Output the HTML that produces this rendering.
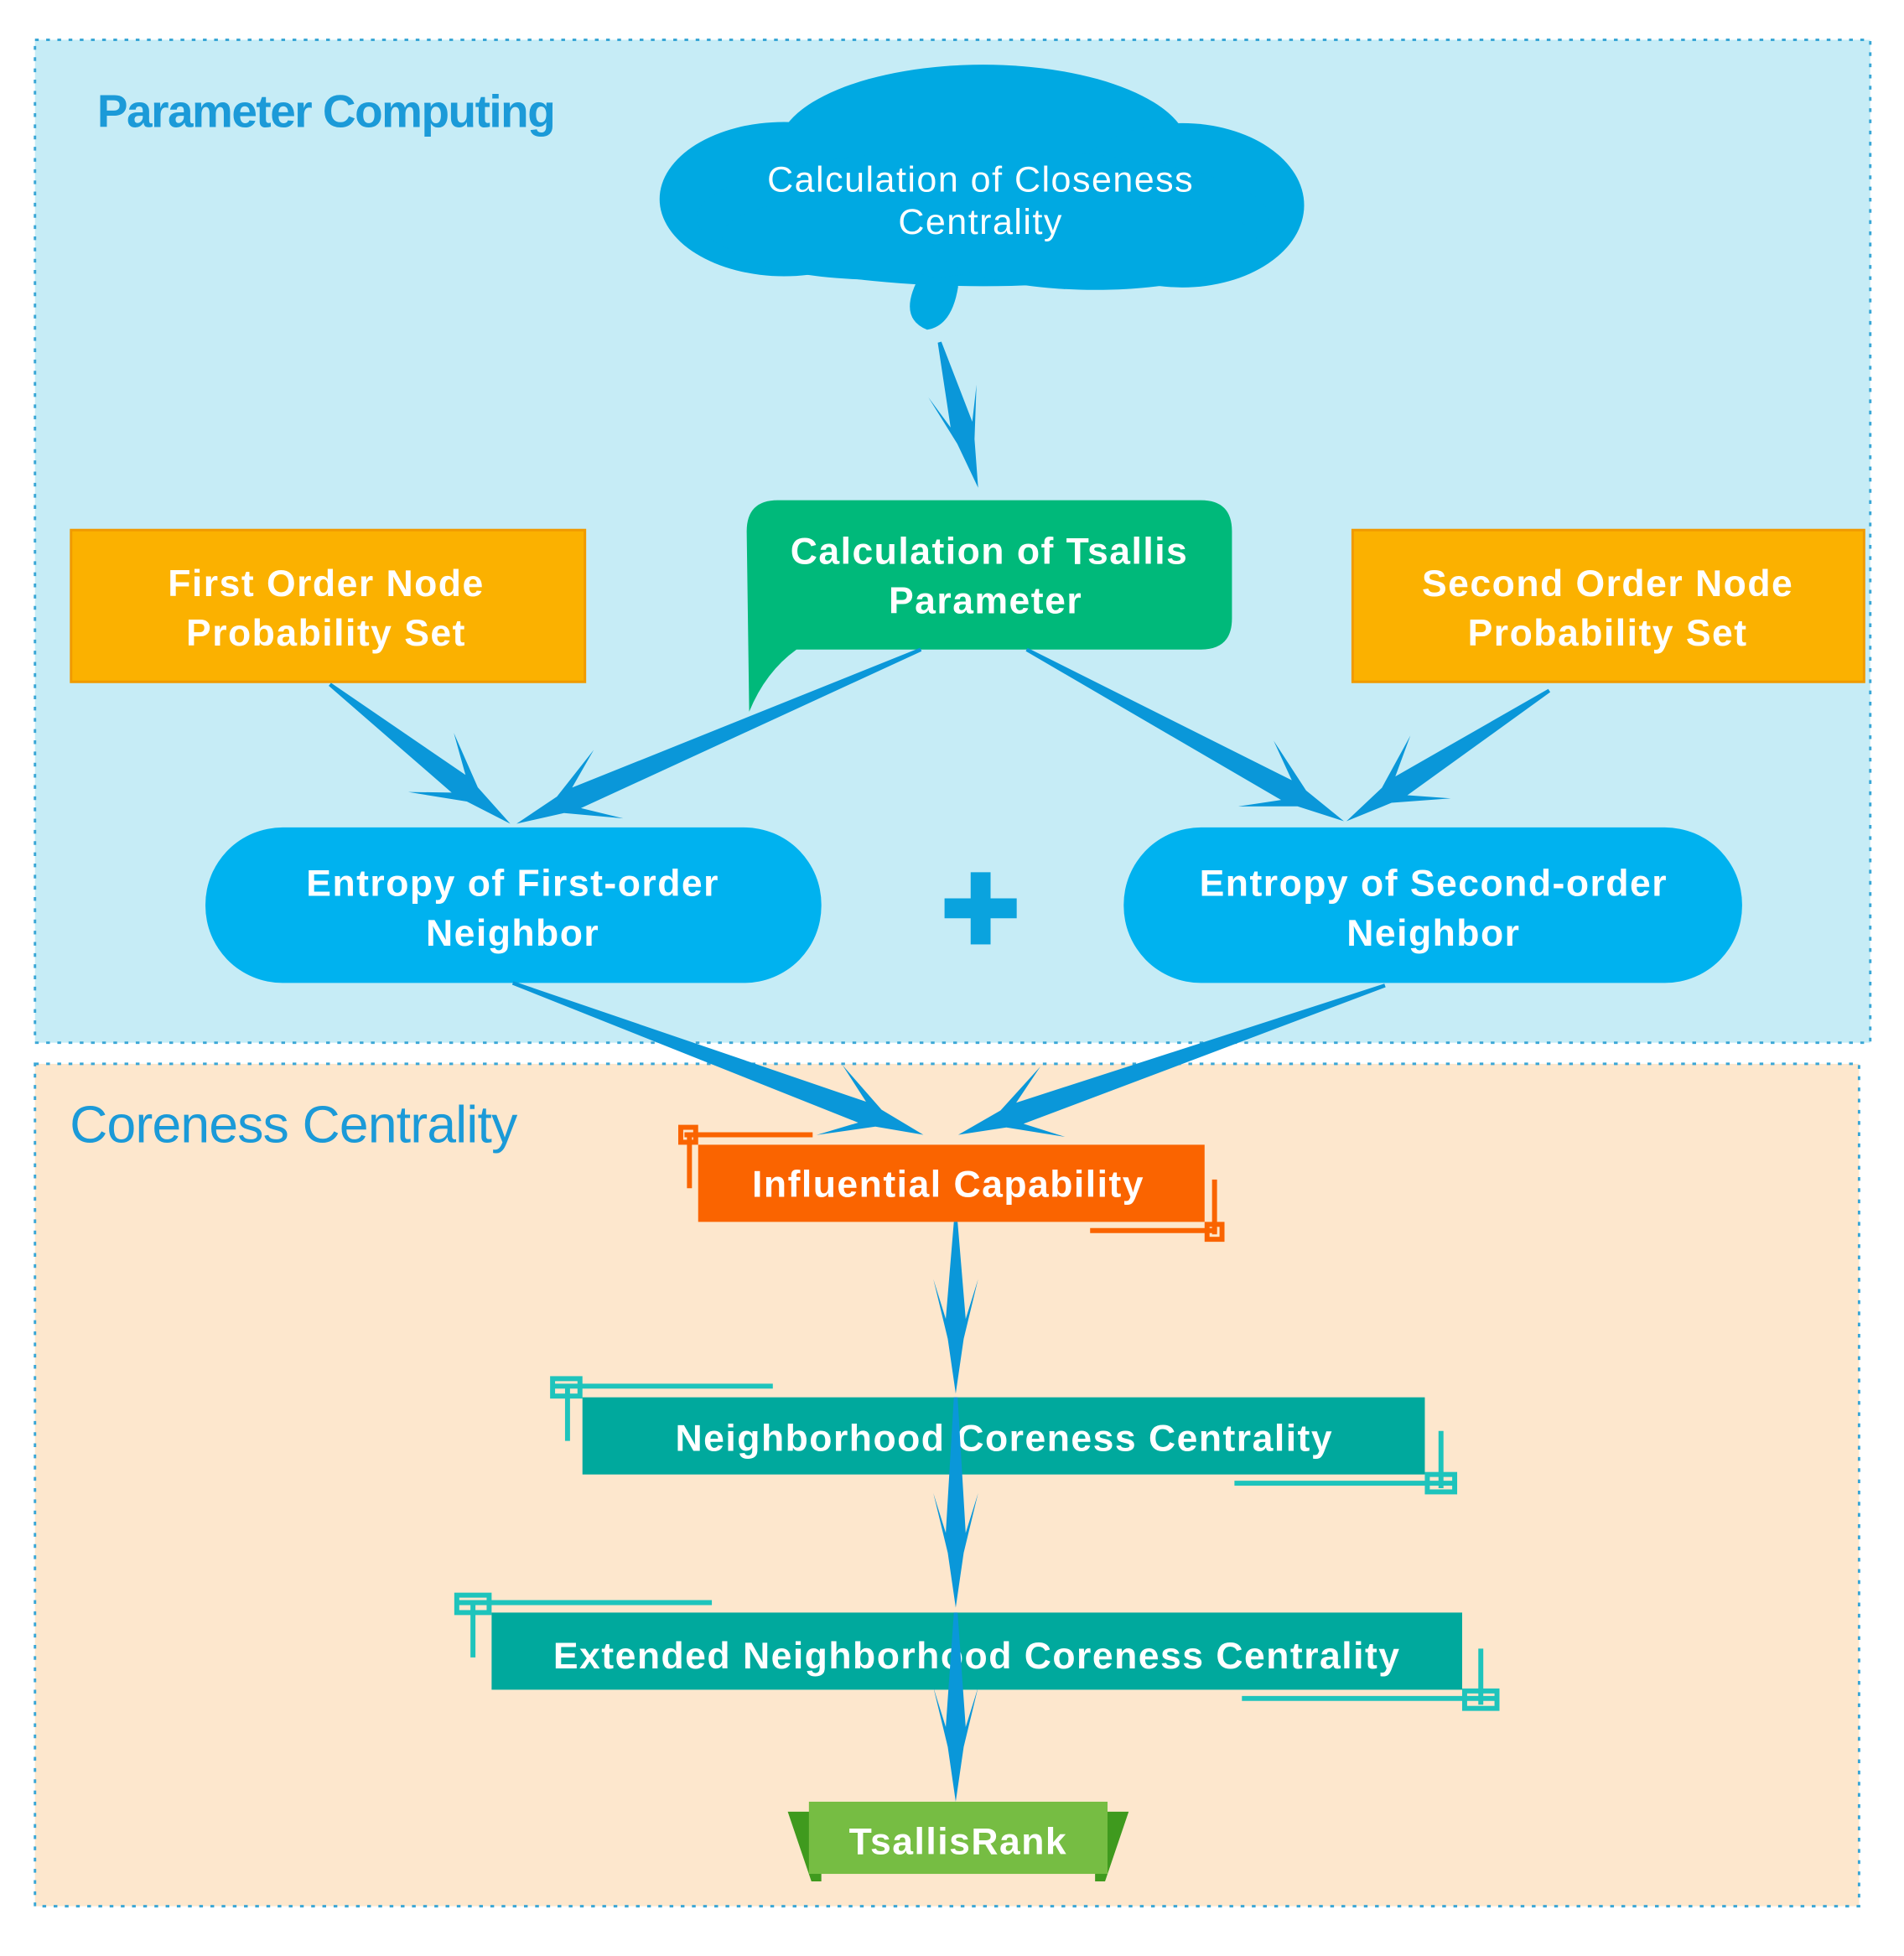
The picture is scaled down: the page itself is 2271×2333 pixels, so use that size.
<!DOCTYPE html>
<html><head><meta charset="utf-8"><style>
html,body{margin:0;padding:0;background:#fff;}
svg{display:block;}
text{font-family:"Liberation Sans",sans-serif;}
</style></head><body>
<svg id="s" width="2271" height="2333" viewBox="0 0 1530 1572" xmlns="http://www.w3.org/2000/svg">
<rect x="0" y="0" width="1530" height="1572" fill="#fff"/>
<rect x="28" y="32" width="1475" height="806" fill="#c6ecf6" stroke="#3aa7d6" stroke-width="2" stroke-dasharray="3,6"/>
<rect x="28" y="855" width="1466" height="677" fill="#fde7cd" stroke="#3aa7d6" stroke-width="2" stroke-dasharray="3,6"/>
<text x="78" y="102" font-size="37" fill="#1b9ad8" font-weight="bold" letter-spacing="-1">Parameter Computing</text>
<text x="56" y="918" font-size="42" fill="#1b9ad8" letter-spacing="-0.5">Coreness Centrality</text>

<!-- cloud -->
<g fill="#00a9e2">
<ellipse cx="630" cy="160" rx="100" ry="62"/>
<ellipse cx="790" cy="120" rx="165" ry="68"/>
<ellipse cx="950" cy="165" rx="98" ry="66"/>
<ellipse cx="790" cy="175" rx="230" ry="55"/>
<ellipse cx="710" cy="190" rx="130" ry="35"/>
<ellipse cx="880" cy="195" rx="130" ry="38"/>
<path d="M740 220 Q720 255 745 265 Q765 262 770 230 Z"/>
</g>
<text x="788" y="154" font-size="29" fill="#fff" text-anchor="middle" letter-spacing="1">Calculation of Closeness</text>
<text x="788" y="188" font-size="29" fill="#fff" text-anchor="middle" letter-spacing="1">Centrality</text>

<!-- green callout -->
<path d="M625 402 H965 Q990 402 990 427 V497 Q990 522 965 522 H640 Q615 540 602 572 L600 427 Q600 402 625 402 Z" fill="#00b97a"/>
<text x="795" y="453" font-size="30" fill="#fff" font-weight="bold" text-anchor="middle" letter-spacing="1">Calculation of Tsallis</text>
<text x="792" y="493" font-size="30" fill="#fff" font-weight="bold" text-anchor="middle" letter-spacing="1">Parameter</text>

<!-- orange boxes -->
<rect x="57" y="426" width="413" height="122" fill="#fbb100" stroke="#f09a00" stroke-width="2"/>
<text x="262" y="479" font-size="30" fill="#fff" font-weight="bold" text-anchor="middle" letter-spacing="1">First Order Node</text>
<text x="262" y="519" font-size="30" fill="#fff" font-weight="bold" text-anchor="middle" letter-spacing="1">Probability Set</text>
<rect x="1087" y="426" width="411" height="122" fill="#fbb100" stroke="#f09a00" stroke-width="2"/>
<text x="1292" y="479" font-size="30" fill="#fff" font-weight="bold" text-anchor="middle" letter-spacing="1">Second Order Node</text>
<text x="1292" y="519" font-size="30" fill="#fff" font-weight="bold" text-anchor="middle" letter-spacing="1">Probability Set</text>

<!-- pills -->
<rect x="165" y="665" width="495" height="125" rx="62" fill="#00b2ef"/>
<text x="412" y="720" font-size="30" fill="#fff" font-weight="bold" text-anchor="middle" letter-spacing="1">Entropy of First-order</text>
<text x="412" y="760" font-size="30" fill="#fff" font-weight="bold" text-anchor="middle" letter-spacing="1">Neighbor</text>
<rect x="903" y="665" width="497" height="125" rx="62" fill="#00b2ef"/>
<text x="1152" y="720" font-size="30" fill="#fff" font-weight="bold" text-anchor="middle" letter-spacing="1">Entropy of Second-order</text>
<text x="1152" y="760" font-size="30" fill="#fff" font-weight="bold" text-anchor="middle" letter-spacing="1">Neighbor</text>
<rect x="759" y="722" width="58" height="16" fill="#0aa3de"/>
<rect x="780" y="701" width="16" height="58" fill="#0aa3de"/>

<!-- Influential -->
<g fill="none" stroke="#fa6400" stroke-width="4">
<line x1="550" y1="912" x2="653" y2="912"/><line x1="554" y1="912" x2="554" y2="955"/><rect x="547" y="906" width="12" height="12"/>
<line x1="876" y1="989" x2="978" y2="989"/><line x1="976" y1="948" x2="976" y2="992"/><rect x="970" y="984" width="12" height="12"/>
</g>
<rect x="561" y="920" width="407" height="62" fill="#fa6400"/>
<text x="762" y="962" font-size="30" fill="#fff" font-weight="bold" text-anchor="middle" letter-spacing="1">Influential Capability</text>

<!-- Neighborhood -->
<g fill="none" stroke="#1ec4bc" stroke-width="4">
<line x1="445" y1="1114" x2="621" y2="1114"/><line x1="456" y1="1114" x2="456" y2="1158"/><rect x="444" y="1108" width="22" height="14"/>
<line x1="992" y1="1192" x2="1168" y2="1192"/><line x1="1158" y1="1150" x2="1158" y2="1196"/><rect x="1147" y="1185" width="22" height="14"/>
</g>
<rect x="468" y="1123" width="677" height="62" fill="#00a99d"/>
<text x="807" y="1166" font-size="30" fill="#fff" font-weight="bold" text-anchor="middle" letter-spacing="1">Neighborhood Coreness Centrality</text>

<!-- Extended -->
<g fill="none" stroke="#1ec4bc" stroke-width="4">
<line x1="368" y1="1288" x2="572" y2="1288"/><line x1="380" y1="1288" x2="380" y2="1332"/><rect x="367" y="1282" width="26" height="14"/>
<line x1="998" y1="1365" x2="1202" y2="1365"/><line x1="1190" y1="1325" x2="1190" y2="1370"/><rect x="1177" y="1359" width="26" height="14"/>
</g>
<rect x="395" y="1296" width="780" height="62" fill="#00a99d"/>
<text x="785" y="1341" font-size="30" fill="#fff" font-weight="bold" text-anchor="middle" letter-spacing="1">Extended Neighborhood Coreness Centrality</text>

<!-- TsallisRank -->
<polygon points="633,1456 660,1456 660,1512 652,1512" fill="#3f9a1e"/>
<polygon points="907,1456 880,1456 880,1512 888,1512" fill="#3f9a1e"/>
<rect x="650" y="1448" width="240" height="58" fill="#76bd43"/>
<text x="770" y="1490" font-size="30" fill="#fff" font-weight="bold" text-anchor="middle" letter-spacing="1">TsallisRank</text>

<g id="arrows" fill="#0a97d9"></g>
</svg>
<script>
function arrow(x1,y1,x2,y2,H,W,w){
 var dx=x2-x1,dy=y2-y1,L=Math.hypot(dx,dy),ux=dx/L,uy=dy/L,nx=-uy,ny=ux;
 function p(a,b){return (x2-ux*a+nx*b).toFixed(1)+","+(y2-uy*a+ny*b).toFixed(1);}
 var pts=[ (x1+nx*1.5)+","+(y1+ny*1.5), p(H*0.75,w), p(H*1.15,W), p(H*0.55,w*0.8), x2+","+y2,
   p(H*0.55,-w*0.8), p(H*1.15,-W), p(H*0.75,-w), (x1-nx*1.5)+","+(y1-ny*1.5)];
 var el=document.createElementNS("http://www.w3.org/2000/svg","polygon");
 el.setAttribute("points",pts.join(" "));
 document.getElementById("arrows").appendChild(el);
}
arrow(755,275,786,392,70,20,9);
arrow(265,550,410,662,70,30,9);
arrow(740,522,415,662,70,30,9);
arrow(825,522,1080,660,70,30,9);
arrow(1245,555,1082,660,70,30,9);
arrow(412,790,742,912,70,30,9);
arrow(1113,792,770,912,70,30,9);
arrow(768,982,768,1120,80,18,8);
arrow(768,1123,768,1292,80,18,8);
arrow(768,1296,768,1448,80,18,8);
</script>
</body></html>
